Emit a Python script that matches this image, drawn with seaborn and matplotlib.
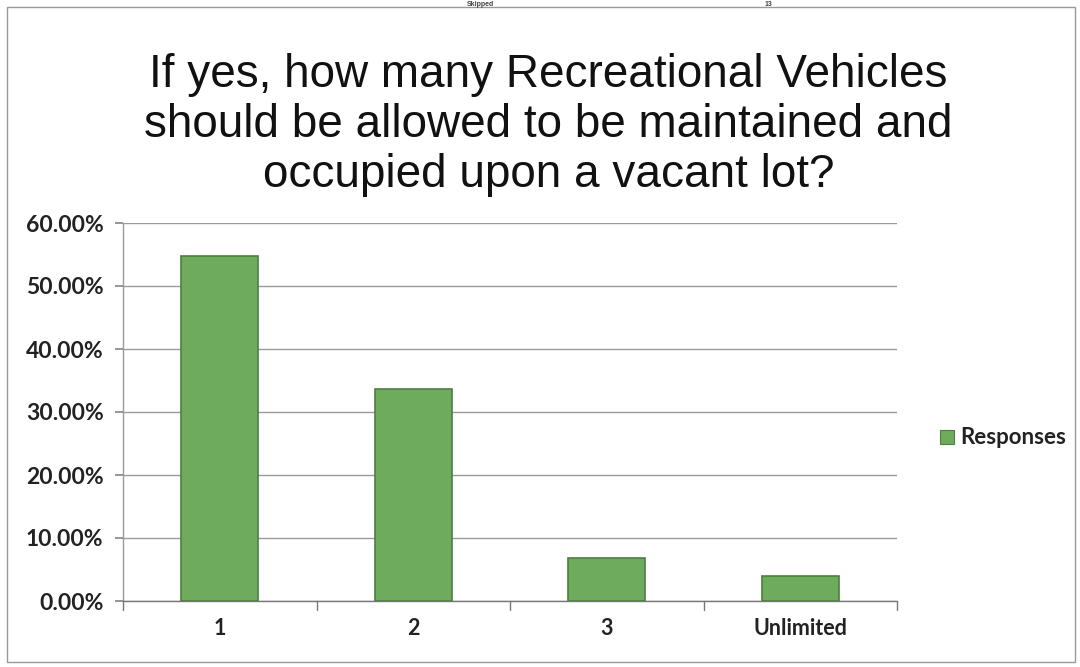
import matplotlib
matplotlib.use("Agg")
import matplotlib.pyplot as plt
import seaborn as sns
import pandas as pd
from matplotlib.patches import Rectangle

categories = ["1", "2", "3", "Unlimited"]
responses = [54.8, 33.6, 6.9, 4.0]
yticks = [0, 10, 20, 30, 40, 50, 60]
ytick_labels = ["0.00%", "10.00%", "20.00%", "30.00%", "40.00%", "50.00%", "60.00%"]
title = "If yes, how many Recreational Vehicles\nshould be allowed to be maintained and\noccupied upon a vacant lot?"
series_name = "Responses"
header_texts = ["Skipped", "13"]

sns.set_theme(style="white")
plt.rcParams["font.family"] = ["Liberation Sans", "DejaVu Sans"]

df = pd.DataFrame({"cat": categories, "val": responses})

fig = plt.figure(figsize=(10.8, 6.67), dpi=100)
ax = fig.add_axes([123/1080, 1-601/667, (897-123)/1080, (601-223)/667])

bar_color = "#6fab5c"
sns.barplot(data=df, x="cat", y="val", color=bar_color, width=0.4, ax=ax,
            edgecolor="#4d7f3e", linewidth=1.2, saturation=1, zorder=3)

ax.set_ylim(0, 60)
ax.set_xlim(-0.5, 3.5)
ax.set_yticks(yticks)
ax.set_yticklabels(ytick_labels, fontfamily="Lato", fontsize=16.5, fontweight="bold", color="#222222")
ax.set_xticks(range(len(categories)))
ax.set_xticklabels(categories, fontfamily="Lato", fontsize=15.5, fontweight="bold", color="#222222")
ax.tick_params(axis="x", length=0, pad=12)
ax.tick_params(axis="y", length=6, color="#888888", direction="out", left=True, pad=8)
ax.set_xlabel("")
ax.set_ylabel("")
ax.grid(axis="y", color="#9a9a9a", linewidth=1.0, zorder=0)
ax.set_axisbelow(True)
for s in ["top", "right"]:
    ax.spines[s].set_visible(False)
ax.spines["left"].set_color("#999999")
ax.spines["bottom"].set_color("#777777")
ax.spines["left"].set_linewidth(1.0)
ax.spines["bottom"].set_linewidth(1.0)
# Excel-style category boundary tick marks
for b in [-0.5, 0.5, 1.5, 2.5, 3.5]:
    ax.plot([b, b], [0, -1.5], color="#777777", lw=1.0, clip_on=False)

fig.text(0.508, 1-125/667, title, ha="center", va="center", fontsize=33,
         color="#111111", linespacing=1.17)

# header row above the chart (cut off in the scan) - kept small and visible
fig.text(480/1080, 1-0.5/667, header_texts[0], ha="center", va="top",
         fontsize=5, fontweight="bold", color="#444444")
fig.text(768/1080, 1-0.5/667, header_texts[1], ha="center", va="top",
         fontsize=5, fontweight="bold", color="#444444")

# legend
fig.patches.append(Rectangle((940/1080, 1-444/667), 14/1080, 14/667,
                             transform=fig.transFigure, facecolor=bar_color,
                             edgecolor="#4d7f3e", lw=0.8))
fig.text(960/1080, 1-437/667, series_name, ha="left", va="center",
         fontfamily="Lato", fontsize=16, fontweight="bold", color="#222222")

# chart border
fig.patches.append(Rectangle((7/1080, 1-662/667), 1068/1080, (662-7)/667,
                             transform=fig.transFigure, facecolor="none",
                             edgecolor="#999999", lw=1.0))

fig.savefig("out.png", dpi=100, facecolor="white")
